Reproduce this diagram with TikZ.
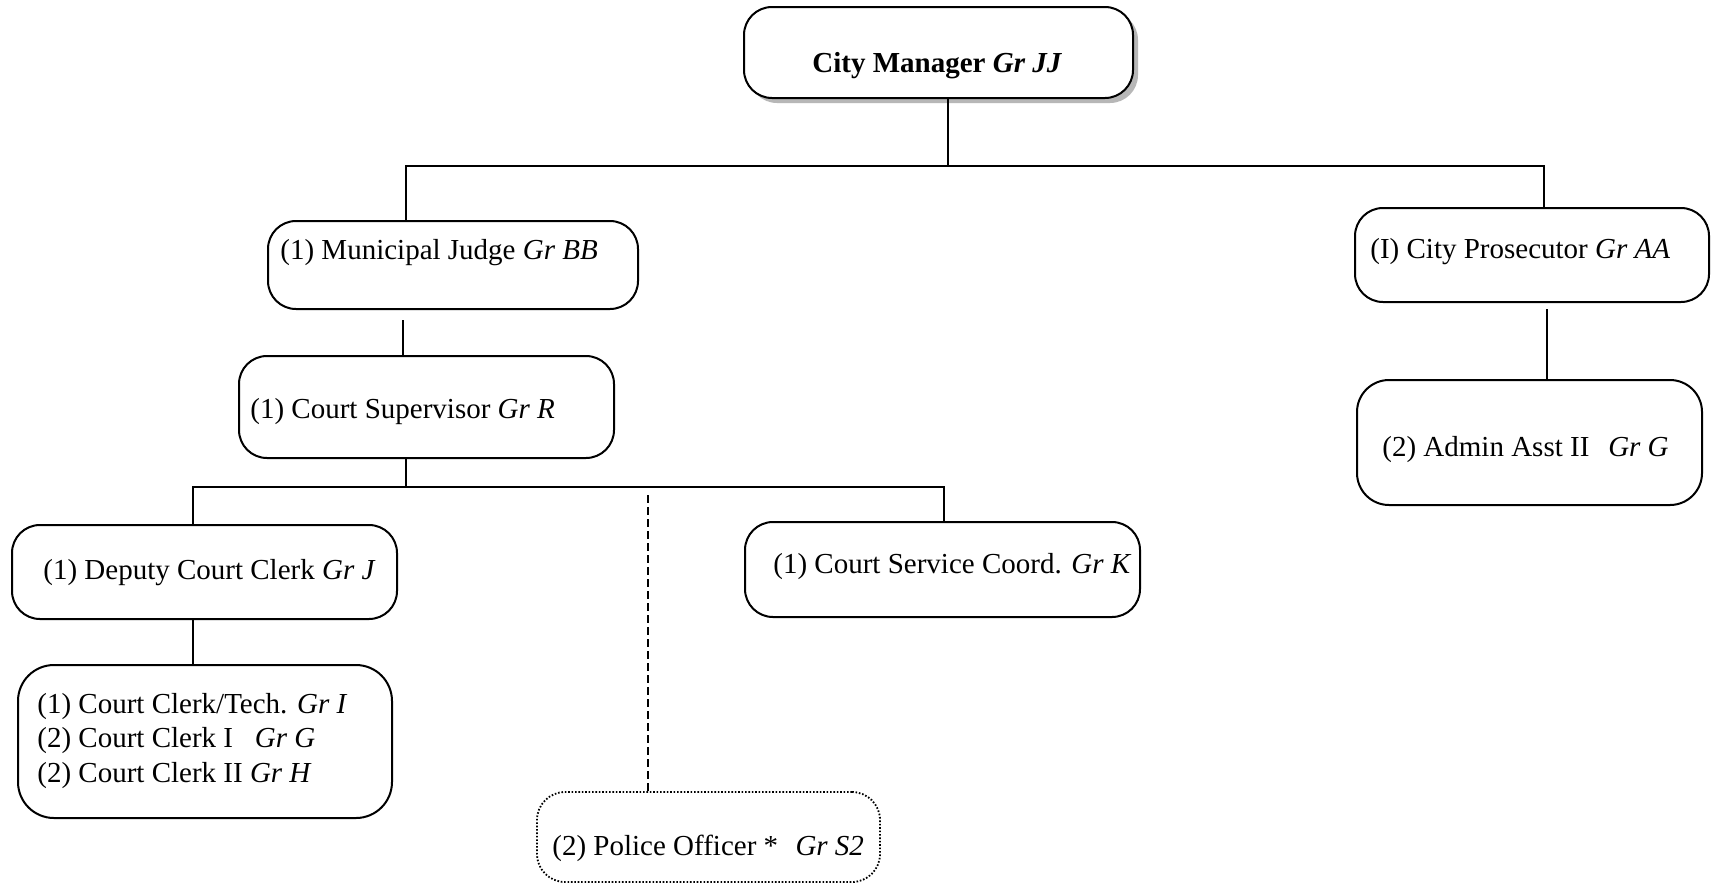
\documentclass[tikz,border=0pt]{standalone}
\usepackage{fontspec}
\setmainfont{Liberation Serif}
\usetikzlibrary{shadows}
\begin{document}
\begin{tikzpicture}[x=0.5pt,y=-0.5pt,
  font=\fontsize{14.5pt}{17.25pt}\selectfont,
  box/.style={draw, line width=1pt, rounded corners=14pt, inner sep=0pt},
  dotbox/.style={draw, line width=0.9pt, dash pattern=on 0.8pt off 0.9pt, rounded corners=14pt, inner sep=0pt},
  lbl/.style={anchor=west, inner sep=0pt, align=left},
  conn/.style={line width=1pt},
  dconn/.style={line width=0.9pt, dash pattern=on 4pt off 2pt}]
\fill[white] (0,0) rectangle (1711,884);
\useasboundingbox (0,0) rectangle (1711,884);

% boxes
\node[box, fill=white, minimum width=194.5pt, minimum height=45.5pt,
  drop shadow={shadow xshift=2.5pt, shadow yshift=-2.5pt, fill=gray!70, opacity=0.8}] (cm) at (938.5,52.5) {};
\node[box, minimum width=185pt, minimum height=44pt] (judge) at (453,265) {};
\node[box, minimum width=187.5pt, minimum height=51pt] (sup) at (426.5,407) {};
\node[box, minimum width=192.5pt, minimum height=47pt] (dep) at (204.5,572) {};
\node[box, minimum width=187pt, minimum height=76.5pt, rounded corners=18pt] (clerk) at (205,741.5) {};
\node[box, minimum width=197.5pt, minimum height=47.5pt] (csc) at (942.5,569.5) {};
\node[dotbox, minimum width=171.5pt, minimum height=45pt] (pol) at (708.5,837) {};
\node[box, minimum width=177pt, minimum height=47pt] (pros) at (1532,255) {};
\node[box, minimum width=172.5pt, minimum height=62.5pt, rounded corners=16pt] (admin) at (1529.5,442.5) {};

% labels
\node[lbl] (cmt) at (812,66) {\textbf{City Manager \textit{Gr JJ}}};
\node[lbl] (judget) at (280,253) {(1) Municipal Judge \textit{Gr BB}};
\node[lbl] (supt) at (250,412) {(1) Court Supervisor \textit{Gr R}};
\node[lbl] (dept) at (43,573) {(1) Deputy Court Clerk \textit{Gr J}};
\node[lbl] (clerkt) at (37,741) {(1) Court Clerk/Tech. \textit{Gr I}\\(2) Court Clerk I\hspace{0.5em} \textit{Gr G}\\(2) Court Clerk II \textit{Gr H}};
\node[lbl] (csct) at (773,567) {(1) Court Service Coord. \textit{Gr K}};
\node[lbl] (polt) at (552,848) {(2) Police Officer *\hspace{0.35em} \textit{Gr S2}};
\node[lbl] (prost) at (1370,252) {(I) City Prosecutor \textit{Gr AA}};
\node[lbl] (admint) at (1382,450) {(2) Admin Asst II\hspace{0.4em} \textit{Gr G}};

% connector coordinates
\coordinate (cmj) at (948,166);
\coordinate (jtop) at (406,166);
\coordinate (ptop) at (1544,166);
\coordinate (js) at (403,330);
\coordinate (sbus) at (406,487);
\coordinate (dbus) at (193,487);
\coordinate (cbus) at (944,487);
\coordinate (pbus) at (648,495);
\coordinate (pa) at (1547,340);

% connectors
\draw[conn] (cmj |- cm.south) -- (cmj);
\draw[conn] (jtop |- judge.north) -- (jtop) -- (ptop) -- (ptop |- pros.north);
\draw[conn] ([yshift=-5pt]js |- judge.south) -- (js |- sup.north);
\draw[conn] (sbus |- sup.south) -- (sbus);
\draw[conn] (dbus |- dep.north) -- (dbus) -- (cbus) -- (cbus |- csc.north);
\draw[dconn] (pbus) -- (pbus |- pol.north);
\draw[conn] (dbus |- dep.south) -- (dbus |- clerk.north);
\draw[conn] ([yshift=-3pt]pa |- pros.south) -- (pa |- admin.north);
\end{tikzpicture}
\end{document}
